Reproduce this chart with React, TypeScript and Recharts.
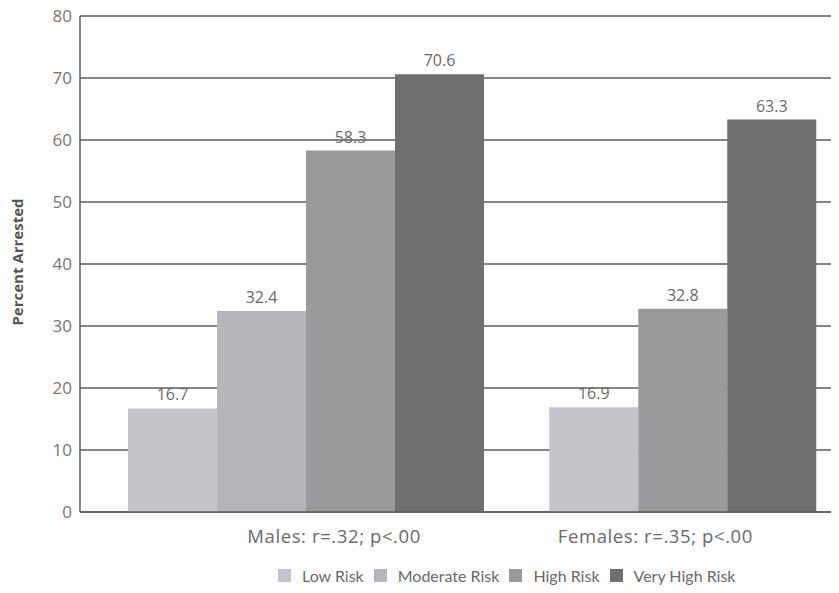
import { BarChart, Bar, XAxis, YAxis, CartesianGrid, Cell, LabelList, Legend } from "recharts";

const GROUPS = ["Males: r=.32; p<.00", "Females: r=.35; p<.00"];
const RISK_LEVELS = ["Low Risk", "Moderate Risk", "High Risk", "Very High Risk"];
const RISK_COLORS = ["#c4c4cb", "#b5b5bc", "#9a9a9d", "#6f6f6f"];

// percent arrested per bar, left to right within each group
const MALE_VALUES = [16.7, 32.4, 58.3, 70.6];
const FEMALE_VALUES = [16.9, 32.8, 63.3];
// risk level (index into RISK_LEVELS) shown by each bar
const MALE_RISK = [0, 1, 2, 3];
const FEMALE_RISK = [0, 2, 3];

const Y_TICKS = [0, 10, 20, 30, 40, 50, 60, 70, 80];

const SLOTS = ["s0", "s1", "s2", "s3"];
const groupValues = [MALE_VALUES, FEMALE_VALUES];
const groupRisk = [MALE_RISK, FEMALE_RISK];

const data = GROUPS.map((g, gi) => {
  const row: Record<string, string | number | null> = { group: g };
  SLOTS.forEach((s, i) => {
    row[s] = groupValues[gi][i] ?? null;
  });
  return row;
});

const FONT = "'Open Sans', Lato, sans-serif";
const LEGEND_FONT = "Lato, 'Open Sans', sans-serif";
const TEXT = "#6a6a6a";
const LINE = "#5c5c5c";

// group captions sit a little off the band centres
const CAPTION_SHIFT = [29, -71];

function GroupTick({ x, y, payload, index }: any) {
  return (
    <text
      x={x + (CAPTION_SHIFT[index] ?? 0)}
      y={y}
      dy={12}
      textAnchor="middle"
      fill={TEXT}
      fontFamily={FONT}
      fontSize={18.5}
      letterSpacing={0.6}
    >
      {payload.value}
    </text>
  );
}

function RiskLegend() {
  return (
    <div style={{ display: "flex", alignItems: "center", fontFamily: LEGEND_FONT, fontSize: 16, color: TEXT }}>
      {RISK_LEVELS.map((r, i) => (
        <div key={r} style={{ display: "flex", alignItems: "center", marginRight: 10 }}>
          <span style={{ width: 13, height: 13, background: RISK_COLORS[i], marginRight: 11, display: "inline-block" }} />
          <span>{r}</span>
        </div>
      ))}
    </div>
  );
}

function AxisTitle({ viewBox }: any) {
  const cx = viewBox.x + 17;
  const cy = viewBox.y + viewBox.height / 2 - 2;
  return (
    <text
      x={cx}
      y={cy}
      transform={`rotate(-90, ${cx}, ${cy})`}
      textAnchor="middle"
      dominantBaseline="central"
      fill="#555"
      fontFamily={FONT}
      fontWeight="bold"
      fontSize={15}
    >
      Percent Arrested
    </text>
  );
}

export default function App() {
  return (
    <div style={{ margin: -8, width: 839, height: 593, overflow: "hidden", background: "#fff" }}>
      <BarChart
        width={937}
        height={593}
        data={data}
        margin={{ top: 16, right: 0, left: 0, bottom: 0 }}
        barCategoryGap={33.5}
        barGap={0}
      >
        <CartesianGrid vertical={false} stroke={LINE} strokeWidth={1.5} />
        <XAxis
          dataKey="group"
          height={46}
          padding={{ left: 14.5, right: 0 }}
          axisLine={{ stroke: LINE, strokeWidth: 1.5 }}
          tickLine={false}
          tick={<GroupTick />}
          tickMargin={13}
        />
        <YAxis
          width={80}
          domain={[0, 80]}
          ticks={Y_TICKS}
          interval={0}
          axisLine={{ stroke: LINE, strokeWidth: 1.5 }}
          tickLine={false}
          tick={{ fill: "#767676", fontFamily: FONT, fontSize: 17 }}
          label={{ content: <AxisTitle /> }}
        />
        <Legend
          verticalAlign="bottom"
          content={<RiskLegend />}
          wrapperStyle={{ left: 278, width: 520, height: 35, display: "flex", alignItems: "center" }}
        />
        {SLOTS.map((s, si) => (
          <Bar key={s} dataKey={s} isAnimationActive={false}>
            {data.map((_, gi) => (
              <Cell key={gi} fill={RISK_COLORS[groupRisk[gi][si] ?? 0]} />
            ))}
            <LabelList
              dataKey={s}
              position="top"
              offset={8}
              fill={TEXT}
              fontFamily={FONT}
              fontSize={16}
              formatter={(v: any) => (v == null ? "" : Number(v).toFixed(1))}
            />
          </Bar>
        ))}
      </BarChart>
    </div>
  );
}
